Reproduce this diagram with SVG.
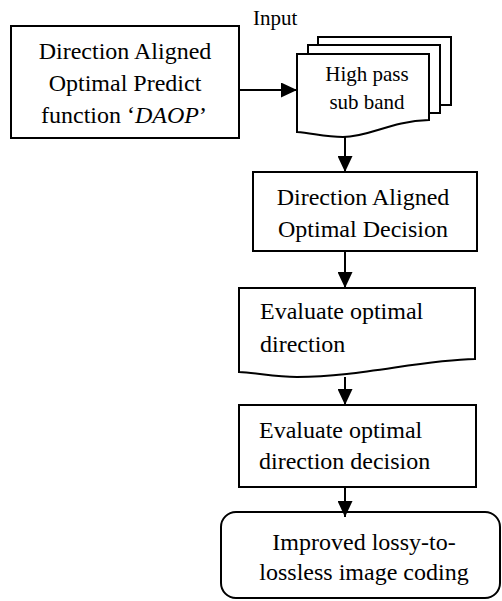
<svg xmlns="http://www.w3.org/2000/svg" width="502" height="601" viewBox="0 0 502 601">
<defs>
<style>
.shape{fill:#fff;stroke:#000;stroke-width:2}
.t{font-family:"Liberation Serif","Times New Roman",serif;font-size:24px;fill:#000}
.s{font-family:"Liberation Serif","Times New Roman",serif;font-size:21px;fill:#000}
.c{text-anchor:middle}
.conn{fill:none;stroke:#000;stroke-width:2}
</style>
<marker id="arr" markerUnits="userSpaceOnUse" markerWidth="16" markerHeight="15" refX="16" refY="7.5" orient="auto">
<path d="M0,0 L16,7.5 L0,15 Z" fill="#000"/>
</marker>
</defs>
<rect width="502" height="601" fill="#fff"/>
<g id="daop">
<rect class="shape" x="11" y="26" width="228" height="112"/>
<text class="t c" x="125" y="59">Direction Aligned</text>
<text class="t c" x="125" y="91">Optimal Predict</text>
<text class="t c" x="124" y="123">function ‘<tspan font-style="italic">DAOP</tspan>’</text>
</g>
<g id="input-label">
<text class="s" x="253" y="25">Input</text>
</g>
<g id="highpass">
<rect class="shape" x="318" y="37" width="133" height="68"/>
<rect class="shape" x="308" y="45" width="132" height="68"/>
<path class="shape" d="M297,54 H429 V120 C390,121 370,137 343,137 C325,137 312,133 297,132 Z"/>
<text class="s c" x="367" y="81">High pass</text>
<text class="s c" x="367" y="109">sub band</text>
</g>
<g id="decision">
<rect class="shape" x="253" y="172" width="224" height="79"/>
<text class="t c" x="363" y="205">Direction Aligned</text>
<text class="t c" x="363" y="237">Optimal Decision</text>
</g>
<g id="evaluate">
<path class="shape" d="M239,288 H475 V359 C420,360 360,377 297,377 C275,377 258,373 239,372 Z"/>
<text class="t" x="260" y="319">Evaluate optimal</text>
<text class="t" x="260" y="352">direction</text>
</g>
<g id="evaluate-decision">
<rect class="shape" x="239" y="405" width="237" height="82"/>
<text class="t" x="259" y="438">Evaluate optimal</text>
<text class="t" x="259" y="469">direction decision</text>
</g>
<g id="improved">
<rect class="shape" x="221" y="512" width="279" height="86" rx="15" ry="15"/>
<text class="t c" x="364" y="550">Improved lossy-to-</text>
<text class="t c" x="364" y="580">lossless image coding</text>
</g>
<g id="connectors">
<path class="conn" d="M239,90 H297" marker-end="url(#arr)"/>
<path class="conn" d="M345,137 V172" marker-end="url(#arr)"/>
<path class="conn" d="M345,251 V288" marker-end="url(#arr)"/>
<path class="conn" d="M345,377 V405" marker-end="url(#arr)"/>
<path class="conn" d="M345,487 V517" marker-end="url(#arr)"/>
</g>
</svg>
